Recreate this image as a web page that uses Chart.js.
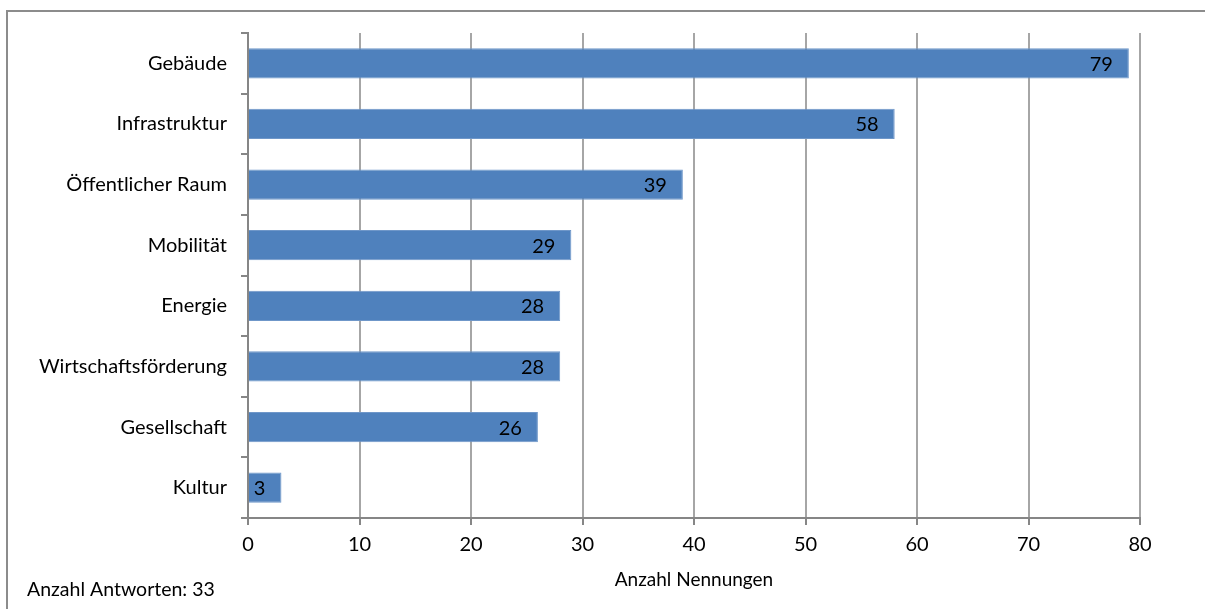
<!DOCTYPE html>
<html>
<head>
<meta charset="utf-8">
<script src="https://cdn.jsdelivr.net/npm/chart.js@4.4.1/dist/chart.umd.min.js"></script>
<style>
  html, body { margin: 0; padding: 0; background: #fff; }
  #wrap { position: relative; width: 1205px; height: 609px; }
</style>
</head>
<body>
<div id="wrap"><canvas id="chart" width="1205" height="609"></canvas></div>
<script>
// Categories and counts (top to bottom)
const categories = ["Gebäude", "Infrastruktur", "Öffentlicher Raum", "Mobilität", "Energie", "Wirtschaftsförderung", "Gesellschaft", "Kultur"]
const counts = [79, 58, 39, 29, 28, 28, 26, 3]
const xTicks = [0, 10, 20, 30, 40, 50, 60, 70, 80]
const axisTitle = "Anzahl Nennungen"
const footNote = "Anzahl Antworten: 33"

const FONT = "Lato, 'Liberation Sans', sans-serif"
const BAR = "#4F81BD"

// Frame around the chart (only top and left edges are visible)
const framePlugin = {
  id: "frame",
  beforeDraw(chart) {
    const ctx = chart.ctx
    ctx.save()
    ctx.strokeStyle = "#8c8c8c"
    ctx.lineWidth = 2
    ctx.beginPath()
    ctx.moveTo(7, 612)
    ctx.lineTo(7, 11)
    ctx.lineTo(1210, 11)
    ctx.stroke()
    ctx.restore()
  },
  afterDraw(chart) {
    const ctx = chart.ctx
    ctx.save()
    ctx.fillStyle = "#000"
    ctx.font = "19.5px " + FONT
    ctx.textAlign = "left"
    ctx.textBaseline = "middle"
    ctx.fillText(footNote, 27, 590)
    ctx.restore()
  },
}

// Value labels drawn inside the bar end
const valueLabels = {
  id: "valueLabels",
  afterDatasetsDraw(chart) {
    const ctx = chart.ctx
    const xs = chart.scales.x
    const ys = chart.scales.y
    ctx.save()
    ctx.fillStyle = "#000"
    ctx.font = "20px " + FONT
    ctx.textAlign = "right"
    ctx.textBaseline = "middle"
    counts.forEach((v, i) => {
      ctx.fillText(String(v), xs.getPixelForValue(v) - 16, ys.getPixelForValue(i) + 1)
    })
    ctx.restore()
  },
}

new Chart(document.getElementById("chart"), {
  type: "bar",
  data: {
    labels: categories,
    datasets: [
      {
        data: counts,
        backgroundColor: BAR,
        borderColor: "#6f97c9",
        borderWidth: 1,
        categoryPercentage: 1,
        barPercentage: 0.5,
      },
    ],
  },
  options: {
    indexAxis: "y",
    responsive: false,
    animation: false,
    events: [],
    layout: { padding: { left: 0, top: 33, right: 65, bottom: 0 } },
    plugins: {
      legend: { display: false },
      tooltip: { enabled: false },
    },
    scales: {
      x: {
        min: 0,
        max: 80,
        afterBuildTicks: (scale) => {
          scale.ticks = xTicks.map((v) => ({ value: v }))
        },
        afterFit: (scale) => {
          scale.height = 91
        },
        ticks: {
          color: "#000",
          font: { family: FONT, size: 20 },
          padding: 8,
          maxRotation: 0,
        },
        grid: {
          color: "#a6a6a6",
          lineWidth: 2,
          tickLength: 7,
          tickColor: "#868686",
        },
        border: { color: "#868686", width: 2 },
        title: {
          display: true,
          text: axisTitle,
          color: "#000",
          font: { family: FONT, size: 19 },
          padding: { top: 0, bottom: 18 },
        },
      },
      y: {
        afterFit: (scale) => {
          scale.width = 248
        },
        ticks: {
          color: "#000",
          font: { family: FONT, size: 20 },
          padding: 14,
        },
        grid: {
          drawOnChartArea: false,
          tickLength: 7,
          color: "#868686",
          lineWidth: 2,
        },
        border: { color: "#868686", width: 2 },
      },
    },
  },
  plugins: [framePlugin, valueLabels],
})
</script>
</body>
</html>
